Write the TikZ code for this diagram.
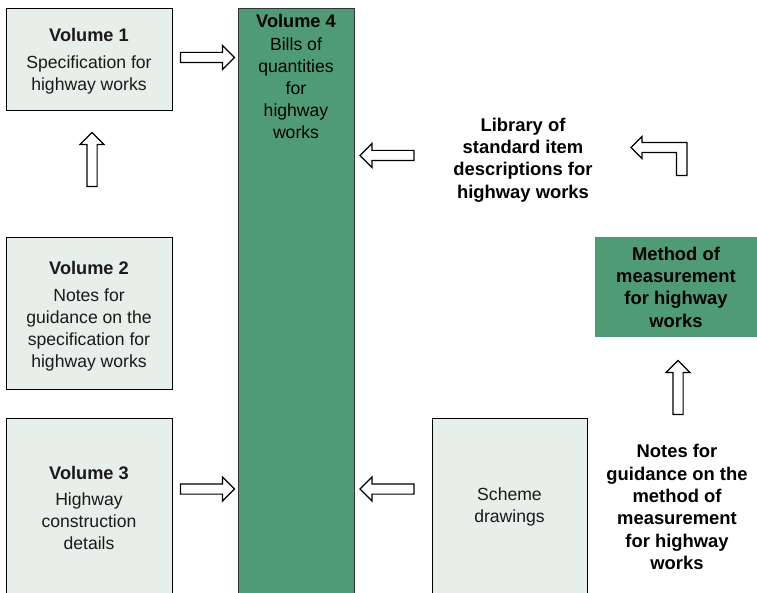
\documentclass[tikz,border=0pt]{standalone}
\usepackage{fontspec}
\setmainfont{Liberation Sans}
\usetikzlibrary{shapes.arrows}
\definecolor{lightg}{HTML}{E6EFE9}
\definecolor{darkg}{HTML}{4F9B75}
\definecolor{txt}{HTML}{1A1A1A}
\newcommand\ttl[1]{{\fontsize{18.2}{22}\selectfont\bfseries #1}}
\begin{document}
\begin{tikzpicture}[x=1pt,y=-1pt,
  box/.style={draw=black, line width=0.9pt, fill=lightg, inner sep=0pt, align=center, text=txt,
    font=\fontsize{17.6}{22}\selectfont},
  gbox/.style={fill=darkg, inner sep=0pt, align=center, text=black,
    font=\fontsize{18.4}{22.3}\selectfont\bfseries},
  plain/.style={align=center, text=black, font=\fontsize{18.4}{22.3}\selectfont\bfseries},
  barrow/.style={single arrow, draw=black, line width=1.2pt, fill=white,
    inner xsep=0pt, inner ysep=4.5pt, single arrow head extend=7pt, minimum height=54pt, outer sep=0pt}
]
\useasboundingbox (0,0) rectangle (757,593);
% boxes
\node[box, minimum width=166pt, minimum height=102pt] (v1) at (89,59) {};
\node[align=center, text=txt, font=\fontsize{17.6}{22}\selectfont] (v1t) at (89,61)
  {\ttl{Volume 1}\\[5pt]Specification for\\highway works};
\node[box, minimum width=166pt, minimum height=152pt] (v2) at (89,313) {};
\node[align=center, text=txt, font=\fontsize{17.6}{22}\selectfont] (v2t) at (89,316)
  {\ttl{Volume 2}\\[5pt]Notes for\\guidance on the\\specification for\\highway works};
\node[box, minimum width=166pt, minimum height=175pt] (v3) at (89,505.5) {};
\node[align=center, text=txt, font=\fontsize{17.6}{22}\selectfont] (v3t) at (89,507.5)
  {\ttl{Volume 3}\\[4pt]Highway\\construction\\details};
\node[draw=black!80, line width=0.9pt, fill=darkg, minimum width=116pt, minimum height=585pt, inner sep=0pt] (v4) at (296,300.5) {};
\node[align=center, text=black, font=\fontsize{17.6}{22}\selectfont, anchor=north] (v4t) at (296,11)
  {\ttl{Volume 4}\\[1pt]Bills of\\quantities\\for\\highway\\works};
\node[box, minimum width=155pt, minimum height=175pt] (sch) at (509.5,505.5) {};
\node[align=center, text=txt, font=\fontsize{17.6}{22}\selectfont] (scht) at (509.5,507)
  {Scheme\\drawings};
\node[gbox, minimum width=162pt, minimum height=100pt] (mm) at (676,287)
  {Method of\\measurement\\for highway\\works};
\node[plain] (lib) at (523,160) {Library of\\standard item\\descriptions for\\highway works};
\node[plain] (ng) at (677,507) {Notes for\\guidance on the\\method of\\measurement\\for highway\\works};
% block arrows
\node[barrow] (a1) at (205,57.5) {};
\node[barrow] (a5) at (205,489) {};
\node[barrow, rotate=180] (a2) at (389.5,155.5) {};
\node[barrow, rotate=180] (a6) at (389.5,489) {};
\node[barrow, rotate=90] (a3) at (92,162) {};
\node[barrow, rotate=90] (a4) at (678,390) {};
% elbow arrow
\draw[line width=1.2pt, fill=white, line join=miter]
  (631,147.5) -- (642,136.5) -- (642,142.5) -- (687,142.5) -- (687,175.5)
  -- (676.5,175.5) -- (676.5,152.5) -- (642,152.5) -- (642,158.5) -- cycle;
\end{tikzpicture}
\end{document}
